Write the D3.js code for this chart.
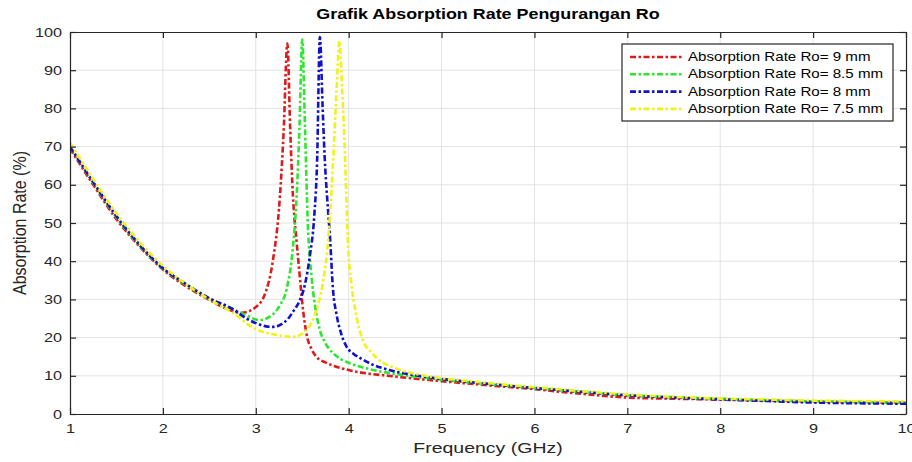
<!DOCTYPE html>
<html>
<head>
<meta charset="utf-8">
<script src="https://cdn.jsdelivr.net/npm/d3@7"></script>
<style>
    body { margin: 0; background: #fff; }
    text { font-family: "Liberation Sans", Arial, sans-serif; fill: #262626; }
    .grid line { stroke: #e3e3e3; stroke-width: 1; }
    .axis path, .axis line { stroke: #262626; }
</style>
</head>
<body>
<script>
/* jshint esversion: 6 */

var width = 912,
    height = 462;

var title = 'Grafik Absorption Rate Pengurangan Ro';
var xLabel = 'Frequency (GHz)';
var yLabel = 'Absorption Rate (%)';

var xTicks = [1, 2, 3, 4, 5, 6, 7, 8, 9, 10];
var yTicks = [0, 10, 20, 30, 40, 50, 60, 70, 80, 90, 100];

var seriesNames = [
    'Absorption Rate Ro= 9 mm',
    'Absorption Rate Ro= 8.5 mm',
    'Absorption Rate Ro= 8 mm',
    'Absorption Rate Ro= 7.5 mm'
];
var seriesColors = ['#dc1c1c', '#2ee62e', '#1212c8', '#f2f21a'];

// Ro = 9 mm
var freq9 = [1, 1.25, 1.5, 1.75, 2, 2.25, 2.5, 2.7, 2.85, 3.0, 3.1, 3.18, 3.26, 3.3, 3.34, 3.37, 3.4, 3.44, 3.47, 3.51, 3.55, 3.6, 3.66, 3.75, 3.85, 4, 4.5, 5, 5.5, 6, 6.5, 7, 7.5, 8, 8.5, 9, 9.5, 10];
var abs9  = [69.5, 60, 51, 43.8, 37.8, 33.4, 29.9, 27.4, 26.5, 28, 31.5, 39.5, 57, 74, 97, 75, 57, 45, 37, 27, 20.5, 17, 14.8, 13.5, 12.5, 11.5, 9.8, 8.6, 7.5, 6.5, 5.3, 4.3, 4.0, 3.8, 3.5, 3.3, 3.1, 3.0];

// Ro = 8.5 mm
var freq85 = [1, 1.25, 1.5, 1.75, 2, 2.25, 2.5, 2.75, 2.9, 3.04, 3.18, 3.26, 3.33, 3.4, 3.44, 3.47, 3.5, 3.53, 3.56, 3.6, 3.64, 3.69, 3.75, 3.83, 3.92, 4, 4.25, 4.5, 5, 5.5, 6, 6.5, 7, 7.5, 8, 8.5, 9, 9.5, 10];
var abs85  = [70, 60.5, 51.5, 44, 38, 33.8, 30.2, 27.5, 25.8, 24.6, 26, 28.5, 32.5, 43.7, 57, 75, 98, 75, 50, 36, 28, 22, 18.5, 16, 14.3, 13.4, 11.6, 10.5, 9, 7.8, 6.8, 5.8, 4.9, 4.4, 4.0, 3.6, 3.3, 3.1, 2.9];

// Ro = 8 mm
var freq8 = [1, 1.25, 1.5, 1.75, 2, 2.25, 2.5, 2.75, 2.9, 3.0, 3.1, 3.18, 3.26, 3.35, 3.42, 3.47, 3.53, 3.58, 3.63, 3.66, 3.69, 3.72, 3.74, 3.77, 3.8, 3.83, 3.87, 3.92, 3.98, 4.05, 4.12, 4.25, 4.44, 4.7, 5, 5.5, 6, 6.5, 7, 7.5, 8, 8.5, 9, 9.5, 10];
var abs8  = [70, 60.7, 51.8, 44.3, 38.2, 34, 30.3, 27.5, 25, 23.8, 23, 22.8, 23.3, 25, 27.5, 29.5, 34, 41, 52, 66, 98.7, 80, 68, 56, 46, 33, 26, 21, 17.5, 15.8, 14.7, 13, 11.5, 10.2, 9.2, 7.9, 6.8, 5.8, 4.9, 4.3, 3.8, 3.4, 3.0, 2.8, 2.7];

// Ro = 7.5 mm
var freq75 = [1, 1.25, 1.5, 1.75, 2, 2.25, 2.5, 2.75, 3.0, 3.2, 3.4, 3.5, 3.58, 3.65, 3.72, 3.77, 3.83, 3.87, 3.9, 3.93, 3.96, 3.99, 4.03, 4.08, 4.15, 4.25, 4.33, 4.5, 4.76, 5, 5.5, 6, 6.5, 7, 7.5, 8, 8.5, 9, 9.5, 10];
var abs75  = [71, 61.5, 52.5, 45, 38.8, 34, 30, 26.5, 22.2, 20.8, 20.2, 21, 23, 27, 34, 43, 65, 85, 97.6, 85, 68, 46, 34, 26, 19.5, 16, 14.1, 12, 10.3, 9.4, 8.1, 7.0, 6.0, 5.1, 4.5, 4.0, 3.8, 3.5, 3.4, 3.3];

var freqs = [freq9, freq85, freq8, freq75];
var values = [abs9, abs85, abs8, abs75];

var margin = {top: 32, right: 6, bottom: 48, left: 70};
var plotW = width - margin.left - margin.right,
    plotH = height - margin.top - margin.bottom;

// the source picture is a little wider than tall, text included
var sx = 1.25;

function stretch(selection, k) {
    selection.each(function() {
        var t = d3.select(this);
        var x = +t.attr('x') || 0, y = +t.attr('y') || 0;
        t.attr('x', 0).attr('y', 0)
            .attr('transform', 'translate(' + x + ',' + y + ') scale(' + k + ',1)');
    });
}

var svg = d3.select('body')
    .append('svg')
    .attr('width', width)
    .attr('height', height);

var g = svg.append('g')
    .attr('transform', 'translate(' + margin.left + ',' + margin.top + ')');

var x = d3.scaleLinear().domain([1, 10]).range([0, plotW]);
var y = d3.scaleLinear().domain([0, 100]).range([plotH, 0]);

// grid
g.append('g').attr('class', 'grid')
    .selectAll('line')
    .data(xTicks.slice(1, -1)).enter()
    .append('line')
    .attr('x1', d => x(d)).attr('x2', d => x(d))
    .attr('y1', 0).attr('y2', plotH);

g.append('g').attr('class', 'grid')
    .selectAll('line')
    .data(yTicks.slice(1, -1)).enter()
    .append('line')
    .attr('x1', 0).attr('x2', plotW)
    .attr('y1', d => y(d)).attr('y2', d => y(d));

// curves
var line = d3.line()
    .x(d => x(d[0]))
    .y(d => y(d[1]))
    .curve(d3.curveMonotoneX);

g.append('defs').append('clipPath').attr('id', 'clip')
    .append('rect').attr('width', plotW).attr('height', plotH);

g.append('g')
    .attr('clip-path', 'url(#clip)')
    .selectAll('path')
    .data(seriesNames).enter()
    .append('path')
    .attr('d', (d, i) => line(d3.zip(freqs[i], values[i])))
    .attr('fill', 'none')
    .attr('stroke', (d, i) => seriesColors[i])
    .attr('stroke-width', 2.6)
    .attr('stroke-dasharray', '6,2.5,2.5,2.5');

// axes, matlab style box with inward ticks
var xAxis = g.append('g').attr('class', 'axis')
    .attr('transform', 'translate(0,' + plotH + ')')
    .call(d3.axisBottom(x).tickValues(xTicks).tickSizeInner(-6).tickSizeOuter(0).tickPadding(10));

var yAxis = g.append('g').attr('class', 'axis')
    .call(d3.axisLeft(y).tickValues(yTicks).tickSizeInner(-6).tickSizeOuter(0).tickPadding(8));

g.append('g').attr('class', 'axis')
    .call(d3.axisTop(x).tickValues(xTicks).tickSizeInner(-6).tickSizeOuter(0).tickFormat(''));

g.append('g').attr('class', 'axis')
    .attr('transform', 'translate(' + plotW + ',0)')
    .call(d3.axisRight(y).tickValues(yTicks).tickSizeInner(-6).tickSizeOuter(0).tickFormat(''));

g.selectAll('.axis path, .axis line').attr('stroke-width', 1.2);

g.selectAll('.axis text')
    .style('font-size', '13px')
    .style('fill', '#262626');
stretch(xAxis.selectAll('text'), sx);
stretch(yAxis.selectAll('text'), sx);

// title and labels
svg.append('text')
    .attr('x', margin.left + plotW / 2)
    .attr('y', 19)
    .attr('text-anchor', 'middle')
    .style('font-size', '14px')
    .style('font-weight', 'bold')
    .style('fill', '#000')
    .text(title)
    .call(stretch, 1.28);

svg.append('text')
    .attr('x', margin.left + plotW / 2)
    .attr('y', 453)
    .attr('text-anchor', 'middle')
    .style('font-size', '15px')
    .text(xLabel)
    .call(stretch, 1.3);

svg.append('text')
    .attr('transform', 'translate(26,' + (margin.top + y(50)) + ') rotate(-90) scale(1,1.15)')
    .attr('text-anchor', 'middle')
    .style('font-size', '16px')
    .text(yLabel);

// legend
var legend = svg.append('g')
    .attr('transform', 'translate(622,44)');

legend.append('rect')
    .attr('width', 271)
    .attr('height', 77)
    .attr('fill', '#fff')
    .attr('stroke', '#262626')
    .attr('stroke-width', 1.2);

var item = legend.selectAll('.item')
    .data(seriesNames).enter()
    .append('g')
    .attr('class', 'item')
    .attr('transform', (d, i) => 'translate(0,' + (13 + i * 17.3) + ')');

item.append('line')
    .attr('x1', 8).attr('x2', 61)
    .attr('stroke', (d, i) => seriesColors[i])
    .attr('stroke-width', 2.6)
    .attr('stroke-dasharray', '6,2.5,2.5,2.5');

item.append('text')
    .attr('x', 66)
    .attr('y', 4)
    .style('font-size', '12px')
    .style('fill', '#000')
    .text(d => d)
    .call(stretch, 1.26);
</script>
</body>
</html>
